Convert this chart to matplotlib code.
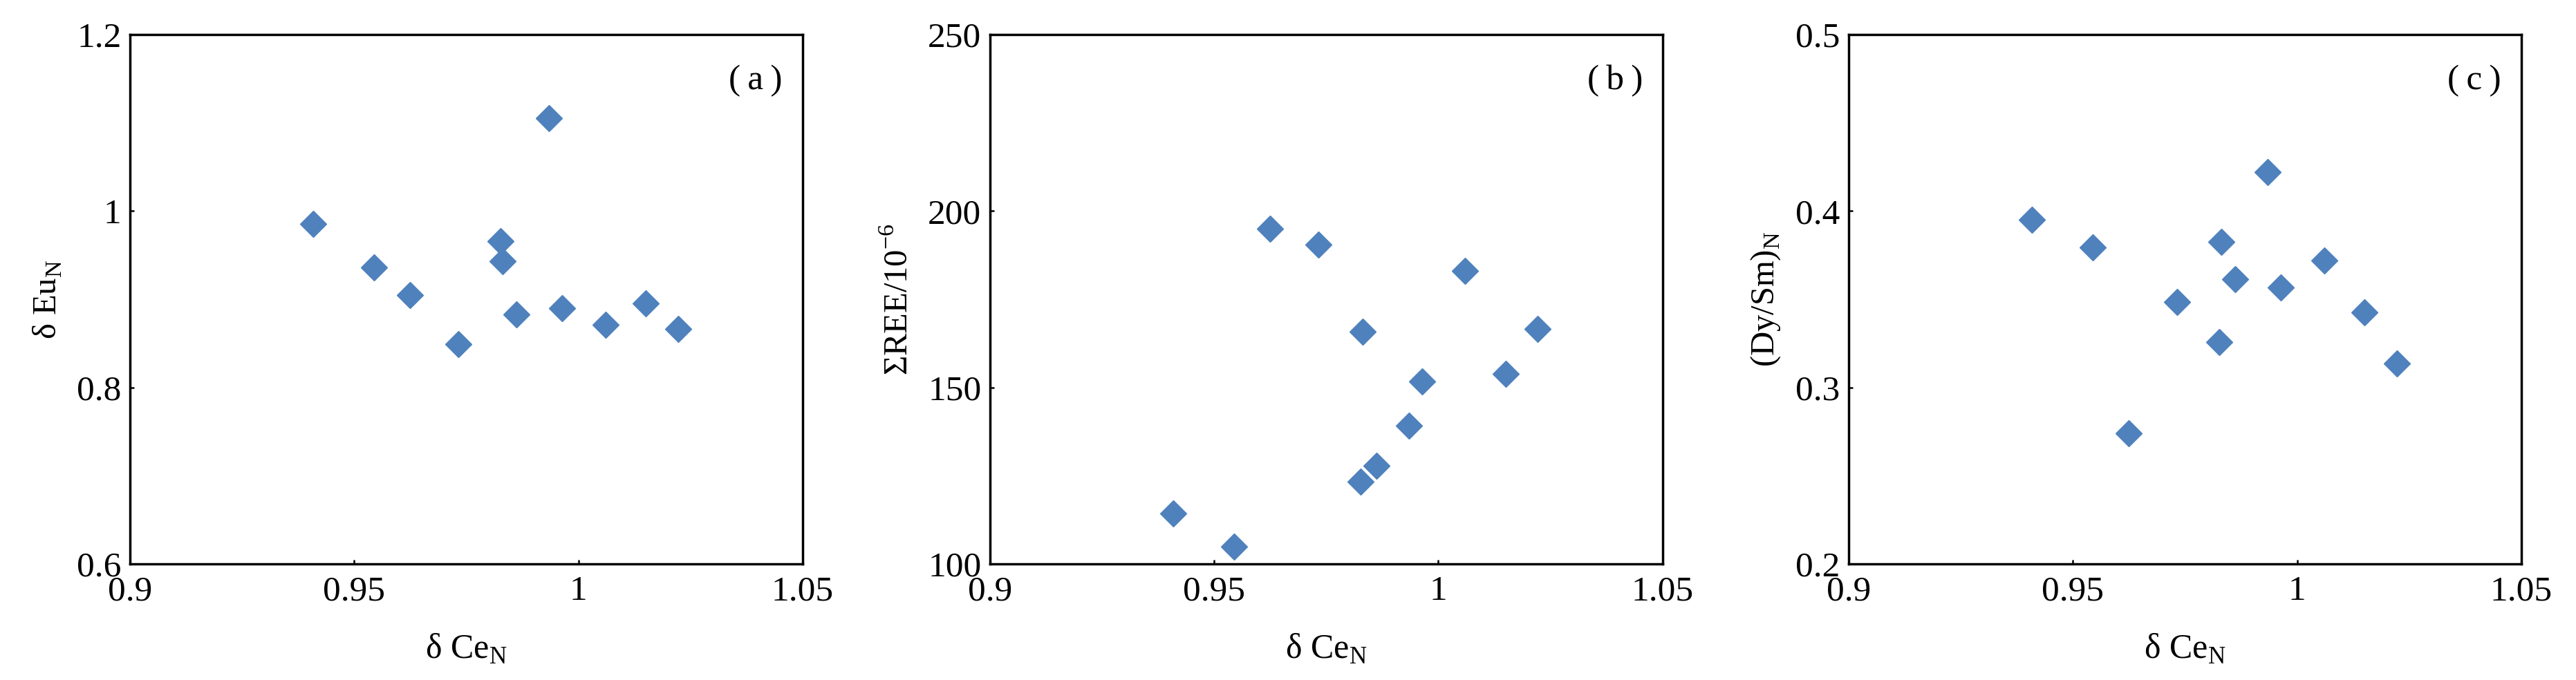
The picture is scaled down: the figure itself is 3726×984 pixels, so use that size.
import numpy as np
import matplotlib
matplotlib.use('Agg')
import matplotlib.pyplot as plt

plt.rcParams['font.family'] = ['Liberation Serif', 'DejaVu Serif']
plt.rcParams['mathtext.fontset'] = 'custom'
plt.rcParams['mathtext.rm'] = 'Liberation Serif'

# data
ce = [0.9408, 0.9544, 0.9624, 0.9732, 0.9826, 0.9831, 0.9862, 0.9934, 0.9964, 1.0060, 1.0150, 1.0222]
eu = [0.9855, 0.936, 0.905, 0.849, 0.966, 0.943, 0.883, 1.1055, 0.890, 0.871, 0.895, 0.866]
ree = [114.3, 104.9, 195.0, 190.4, 123.3, 165.8, 127.8, 139.2, 151.7, 183.1, 153.9, 166.5]
dysm = [0.3949, 0.3792, 0.2741, 0.3485, 0.3257, 0.3826, 0.3613, 0.4222, 0.3566, 0.3718, 0.3424, 0.3134]

xticks = [0.9, 0.95, 1.0, 1.05]
xticklabels = ['0.9', '0.95', '1', '1.05']

panels = [
    (eu, [0.6, 0.8, 1.0, 1.2], ['0.6', '0.8', '1', '1.2'], 'δ Eu$_\\mathrm{N}$', '(\u2009a\u2009)'),
    (ree, [100, 150, 200, 250], ['100', '150', '200', '250'], 'ΣREE/10$^{-6}$', '(\u2009b\u2009)'),
    (dysm, [0.2, 0.3, 0.4, 0.5], ['0.2', '0.3', '0.4', '0.5'], '(Dy/Sm)$_\\mathrm{N}$', '(\u2009c\u2009)'),
]
lefts = [0.0505, 0.3843, 0.7177]

fig = plt.figure(figsize=(37.26, 9.84), dpi=100)

for (yv, yt, ytl, ylab, tag), left in zip(panels, lefts):
    ax = fig.add_axes([left, 0.1707, 0.2611, 0.7785])
    ax.plot(ce, yv, linestyle='none', marker='D', ms=19, color='#4F81BD')
    ax.set_xlim(0.9, 1.05)
    ax.set_ylim(yt[0], yt[-1])
    ax.set_xticks(xticks)
    ax.set_xticklabels(xticklabels)
    ax.set_yticks(yt)
    ax.set_yticklabels(ytl)
    ax.tick_params(direction='in', length=4, width=1.8, labelsize=37)
    ax.tick_params(axis='x', pad=12)
    ax.tick_params(axis='y', pad=9)
    for s in ax.spines.values():
        s.set_linewidth(2.5)
    ax.set_xlabel('δ Ce$_\\mathrm{N}$', fontsize=36, labelpad=26)
    ax.set_ylabel(ylab, fontsize=35, labelpad=14)
    ax.text(0.93, 0.913, tag, transform=ax.transAxes, fontsize=37,
            ha='center', va='center')

fig.savefig('out.png', dpi=100)
